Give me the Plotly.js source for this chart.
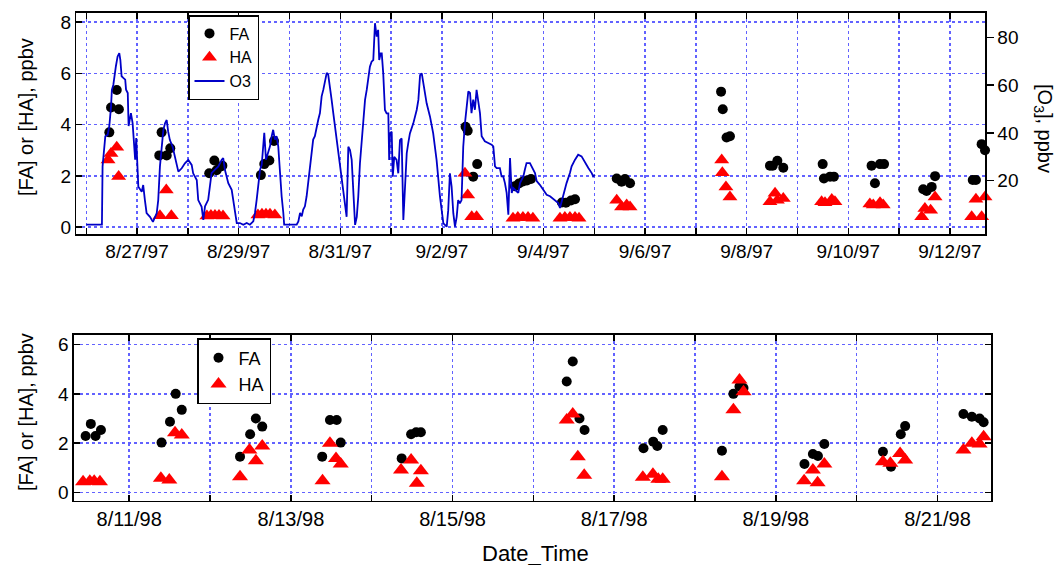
<!DOCTYPE html>
<html>
<head>
<meta charset="utf-8">
<script src="https://cdn.plot.ly/plotly-3.0.1.min.js"></script>
<style>html,body{margin:0;padding:0;background:#fff;}#chart{width:1057px;height:565px;}</style>
</head>
<body>
<div id="chart"></div>
<script>
// ---------- DATA (times are hours after the base date of each campaign) ----------
const base1997 = '1997-08-26';
const base1998 = '1998-08-11';

const o3Hours = [0.0,7.4,7.7,9.0,10.1,10.9,11.7,12.1,12.8,13.2,14.0,14.8,15.6,16.1,16.7,17.5,18.4,18.8,19.6,20.0,20.6,21.1,21.9,22.7,23.1,23.6,24.6,26.2,26.9,27.7,28.5,30.1,31.5,33.3,34.0,34.8,35.6,36.4,37.2,38.0,38.7,39.5,40.8,41.9,43.5,45.1,46.6,48.2,49.8,50.5,52.2,52.9,54.5,55.3,56.1,57.6,58.4,59.2,60.8,62.4,64.0,64.7,65.5,66.3,67.1,68.7,69.4,70.2,71.1,72.6,74.2,75.8,77.3,78.9,79.7,80.5,81.3,82.1,82.9,84.1,84.9,85.7,86.8,87.6,88.3,89.1,89.9,90.7,91.5,92.3,93.1,93.5,99.4,100.2,101.0,101.8,102.5,103.3,104.1,104.9,105.7,106.5,107.2,108.0,108.8,109.6,110.4,111.2,112.0,112.8,113.6,114.3,115.1,115.9,116.7,117.5,118.3,119.1,119.9,120.7,121.4,122.2,123.0,123.8,124.6,125.4,126.2,127.0,127.8,128.5,129.3,130.1,130.9,131.7,132.5,133.2,134.0,134.8,135.6,136.4,137.2,137.9,138.4,139.1,139.6,140.3,141.1,141.9,142.7,143.1,143.5,144.3,144.8,145.5,146.6,147.4,148.2,149.0,149.8,150.6,151.4,152.1,152.9,154.5,156.1,156.9,157.7,158.5,159.2,160.0,160.8,162.4,163.9,165.5,166.3,167.1,168.7,170.3,171.0,171.8,172.6,173.4,174.2,175.0,175.7,176.5,177.3,178.1,178.9,179.7,180.5,181.3,182.0,182.8,183.6,184.4,185.2,186.0,186.8,187.6,188.3,189.9,191.5,192.3,193.1,193.9,195.4,196.2,197.0,197.8,198.6,199.4,200.2,201.0,201.7,203.3,204.1,204.9,206.5,207.2,208.0,209.6,210.4,211.2,212.0,212.8,214.3,215.9,217.5,219.1,221.5,223.0,223.8,224.6,226.1,226.9,228.5,229.3,230.9,232.4,234.0,235.6,237.2,238.8,239.5,240.3];
const o3Ppbv = [1.6,1.6,26,38.6,39.2,42.9,51.1,58,60.2,63.7,67.9,72,73.4,70.6,63.7,63,62.3,58.1,56.7,42.9,46.9,48.3,44.1,31.6,28.8,37.9,17.5,15.4,18.2,11.9,6.5,4.9,2.8,6.5,11.9,25.9,35.6,41.2,44,45.4,40.5,37,34.2,30,23.8,25.2,27.3,28.7,26.6,23.1,20.3,11.9,9.1,3.6,9.3,12,19,23.2,24.6,26,28.8,29.5,24.6,21.8,19,16.2,12,6.5,2.3,2.3,1.6,2.3,1.6,3,6.5,12,19,24.6,26.7,40,28.8,31.6,34.4,38.6,41.3,37.2,38.6,34.4,23.2,13.5,6.5,1.6,1.6,3,6.5,5.1,7.9,9.3,13.5,19,26,31.6,37.2,38.6,42.8,45.5,48.3,55.3,58.1,62.3,65.1,64.4,58.1,53.9,48.3,42.8,37.2,31.6,27.4,20.3,17.5,11.9,4.9,34.2,32.8,28.7,11.9,1.5,4.9,13.3,27.3,37,46.8,53.8,58,62.1,67.7,69.8,70.5,85.9,80.3,83.1,70.5,73.3,73.3,64.9,49.6,48.2,48.2,28.7,39.8,40.5,21.7,30,28.7,23.1,37,37.7,3.6,17.5,31.5,35.6,39.8,44,49.6,53.8,64.2,64.9,60.7,56.6,52.4,46.8,39.8,28.7,18.9,13.3,2.2,0.8,7.7,23.1,17.5,6.4,0.8,4.9,11.9,10.5,11.9,34.2,44,52,57.4,56.7,48.3,53.9,49.7,58,52.5,48.3,38.6,37.2,36.5,35.8,35.1,34.4,26,25.3,25.3,21.8,21.8,19,14.9,5.8,29.5,14.9,17,15.6,14.9,19,21.8,24.6,27.4,27.4,26,24.6,23.2,19.8,18.3,16.2,14.1,13.5,12,10.7,8.6,11.4,16.2,19,23.2,26,28.8,30.9,30.2,27.4,25.3,23.2,21.8,22.5];

const fa97Hours = [10.9,11.7,14.4,15.4, 34.5,35.6,38.0,39.7, 58.1,60.5,61.6,63.2,64.3, 82.5,84.1,86.5,88.7, 179.2,180.2,182.8,184.7, 202.5,204.4,206.3,208.2,210.1, 224.7,226.6,229.0,230.9, 250.6,252.9,254.5,256.9, 299.9,300.7,302.5,304.1, 323.0,324.3,326.5,329.3, 347.9,348.5,351.4,353.2, 371.0,372.6,375.0,376.9, 395.4,397.0,399.4,401.0, 418.8,420.3,423.0,424.6];
const fa97 = [3.7,4.67,5.35,4.6, 2.8,3.7,2.8,3.08, 2.1,2.6,2.22,2.36,2.4, 2.03,2.46,2.6,3.36, 3.92,3.76,1.97,2.46, 1.6,1.7,1.78,1.82,1.88, 0.96,0.95,1.04,1.09, 1.9,1.77,1.88,1.71, 5.29,4.6,3.5,3.55, 2.4,2.4,2.59,2.32, 2.46,1.9,1.97,1.97, 2.4,1.71,2.46,2.46, 1.48,1.41,1.57,1.99, 1.84,1.84,3.24,3.0];

const ha97Hours = [10.3,11.7,14.4,15.3, 34.8,37.8,40.2, 57.0,58.9,60.8,62.7,64.6, 81.1,83.0,84.9,86.8,89.1, 178.9,180.2,182.1,184.4, 201.6,203.9,206.3,208.7,211.0, 223.8,226.1,228.5,230.9,232.8, 250.6,252.9,255.3,256.9, 300.2,300.5,302.2,304.1, 323.0,325.4,326.5,329.3, 347.4,349.0,352.2,353.7, 370.2,371.8,375.0,376.5, 394.7,396.2,398.9,401.0, 418.3,420.3,423.0,424.6];
const ha97 = [2.62,2.87,3.12,1.98, 0.44,1.45,0.44, 0.43,0.45,0.45,0.45,0.43, 0.47,0.5,0.5,0.5,0.47, 2.1,1.25,0.4,0.4, 0.35,0.38,0.38,0.38,0.35, 0.35,0.38,0.38,0.38,0.35, 1.05,0.79,0.86,0.79, 2.62,2.12,1.57,1.18, 0.99,1.32,1.05,1.12, 0.99,0.95,1.08,0.99, 0.9,0.86,0.95,0.86, 0.4,0.73,0.66,1.18, 0.4,1.09,0.4,1.18];

const fa98Hours = [-12.95,-11.4,-10.0,-8.4, 9.6,12.1,13.8,15.6, 32.9,35.9,37.6,39.5, 57.3,59.6,61.6,62.8, 80.9,83.7,85.2,86.6, 129.9,131.7,133.7,135.2, 152.7,155.6,156.8,158.4, 176.0,179.4,181.2,182.4, 200.5,203.0,204.5,206.4, 223.8,226.2,229.1,230.4, 247.7,250.2,252.5,253.7];
const fa98 = [2.29,2.78,2.29,2.53, 2.02,2.87,4.0,3.35, 1.45,2.36,3.0,2.67, 1.45,2.94,2.94,2.02, 1.38,2.36,2.44,2.44, 4.5,5.31,3.0,2.53, 1.79,2.06,1.88,2.53, 1.69,4.0,4.3,4.24, 1.15,1.56,1.48,1.96, 1.65,1.04,2.36,2.69, 3.18,3.07,3.0,2.85];

const ha98Hours = [-13.7,-11.7,-10.4,-8.7, 9.4,11.9,13.6,15.6, 32.9,35.7,37.6,39.5, 57.4,59.6,61.4,62.8, 80.7,83.7,85.4,86.6, 129.9,131.7,133.2,135.1, 152.5,155.5,157.1,158.4, 176.0,179.4,181.2,182.4, 200.4,203.0,204.4,206.4, 223.8,226.0,228.9,230.4, 247.7,250.2,252.5,253.7];
const ha98 = [0.43,0.45,0.45,0.43, 0.57,0.5,2.42,2.33, 0.63,1.72,1.28,1.88, 0.47,1.99,1.38,1.15, 0.91,1.31,0.37,0.88, 2.94,3.18,1.45,0.7, 0.61,0.74,0.53,0.53, 0.63,3.35,4.56,4.09, 0.47,0.91,0.39,1.15, 1.24,1.18,1.58,1.31, 1.72,1.99,1.96,2.26];

const range97Hours = [-4.7, 424.6];
const range98Hours = [-16.4, 255.9];

// ---------- helpers ----------
function pad(n){return (n<10?'0':'')+n;}
function toDate(base, h){
  const p = base.split('-').map(Number);
  const d = new Date(Date.UTC(p[0], p[1]-1, p[2]) + Math.round(h*3600000));
  return d.getUTCFullYear()+'-'+pad(d.getUTCMonth()+1)+'-'+pad(d.getUTCDate())+' '+pad(d.getUTCHours())+':'+pad(d.getUTCMinutes())+':'+pad(d.getUTCSeconds());
}
const conv = (base, arr) => arr.map(h => toDate(base, h));

const FONT = 'Liberation Sans, Arial, Helvetica, sans-serif';
const GRID = '#6262ff';
const DAY = 86400000;

const traces = [
  {x: conv(base1997, o3Hours), y: o3Ppbv, name: 'O3', type: 'scatter', mode: 'lines',
   xaxis: 'x', yaxis: 'y2', line: {color: '#0000c8', width: 1.8}, legend: 'legend', legendrank: 3},
  {x: conv(base1997, fa97Hours), y: fa97, name: 'FA', type: 'scatter', mode: 'markers',
   xaxis: 'x', yaxis: 'y', marker: {symbol: 'circle', size: 10, color: '#000'}, cliponaxis: false, legend: 'legend', legendrank: 1},
  {x: conv(base1997, ha97Hours), y: ha97, name: 'HA', type: 'scatter', mode: 'markers',
   xaxis: 'x', yaxis: 'y', marker: {symbol: 'triangle-up', size: 13, color: '#ff0000'}, cliponaxis: false, legend: 'legend', legendrank: 2},
  {x: conv(base1998, fa98Hours), y: fa98, name: 'FA', type: 'scatter', mode: 'markers',
   xaxis: 'x2', yaxis: 'y3', marker: {symbol: 'circle', size: 10, color: '#000'}, cliponaxis: false, legend: 'legend2', legendrank: 1},
  {x: conv(base1998, ha98Hours), y: ha98, name: 'HA', type: 'scatter', mode: 'markers',
   xaxis: 'x2', yaxis: 'y3', marker: {symbol: 'triangle-up', size: 14, color: '#ff0000'}, cliponaxis: false, legend: 'legend2', legendrank: 2}
];

function xAxis(domain, anchor, base, rng, tick0, minor0, fsize){
  return {
    domain: domain, anchor: anchor, type: 'date',
    range: [toDate(base, rng[0]), toDate(base, rng[1])],
    tick0: tick0, dtick: 2*DAY, tickformat: '%-m/%-d/%y',
    ticks: 'inside', ticklen: 6, tickwidth: 1.5, tickcolor: '#000',
    showline: true, linecolor: '#000', linewidth: 1.5, mirror: 'ticks',
    showgrid: true, gridcolor: GRID, griddash: 'dot', gridwidth: 1.5, zeroline: false,
    minor: {tick0: minor0, dtick: DAY, ticks: 'inside', ticklen: 6, tickwidth: 1.5, tickcolor: '#000',
            showgrid: true, gridcolor: GRID, griddash: 'dot', gridwidth: 1.5},
    tickfont: {family: FONT, size: fsize, color: '#000'}, automargin: false
  };
}

const layout = {
  width: 1057, height: 565,
  margin: {l: 0, r: 0, t: 0, b: 0},
  paper_bgcolor: '#fff', plot_bgcolor: '#fff',
  font: {family: FONT, color: '#000'},
  showlegend: true,
  xaxis: xAxis([0.0722, 0.9319], 'y', base1997, range97Hours, '1997-08-27', '1997-08-26', 19),
  yaxis: {domain: [0.5858, 0.977], anchor: 'x', range: [-0.27, 8.36], tickvals: [0,2,4,6,8],
    ticks: 'inside', ticklen: 6, tickwidth: 1.5, tickcolor: '#000',
    showline: true, linecolor: '#000', linewidth: 1.5, mirror: false,
    showgrid: true, gridcolor: GRID, griddash: 'dot', gridwidth: 1.5, zeroline: false,
    tickfont: {family: FONT, size: 19}, automargin: false},
  yaxis2: {overlaying: 'y', side: 'right', anchor: 'x', range: [-2.3, 90.17], tickvals: [20,40,60,80],
    ticks: 'outside', ticklen: 7, tickwidth: 1.5, tickcolor: '#000',
    showline: true, linecolor: '#000', linewidth: 1.5, showgrid: false, zeroline: false,
    tickfont: {family: FONT, size: 19}, automargin: false},
  xaxis2: xAxis([0.0700, 0.9376], 'y3', base1998, range98Hours, '1998-08-11', '1998-08-10', 20),
  yaxis3: {domain: [0.1133, 0.4071], anchor: 'x2', range: [-0.35, 6.39], tickvals: [0,2,4,6],
    ticks: 'inside', ticklen: 6, tickwidth: 1.5, tickcolor: '#000',
    showline: true, linecolor: '#000', linewidth: 1.5, mirror: 'ticks',
    showgrid: true, gridcolor: GRID, griddash: 'dot', gridwidth: 1.5, zeroline: false,
    tickfont: {family: FONT, size: 19}, automargin: false},
  legend: {x: 188/1057, y: 1-15/565, xanchor: 'left', yanchor: 'top', bgcolor: '#fff',
    bordercolor: '#000', borderwidth: 1.5, font: {family: FONT, size: 16}, traceorder: 'normal',
    tracegroupgap: 0, itemwidth: 30},
  legend2: {x: 197/1057, y: 1-338/565, xanchor: 'left', yanchor: 'top', bgcolor: '#fff',
    bordercolor: '#000', borderwidth: 1.5, font: {family: FONT, size: 18}, traceorder: 'normal',
    tracegroupgap: 0, itemwidth: 30},
  annotations: [
    {text: '[FA] or [HA], ppbv', xref: 'paper', yref: 'paper', x: 26/1057, y: 1-117/565,
     xanchor: 'center', yanchor: 'middle', textangle: -90, showarrow: false, font: {family: FONT, size: 20}},
    {text: '[O<sub>3</sub>], ppbv', xref: 'paper', yref: 'paper', x: 1044/1057, y: 1-128/565,
     xanchor: 'center', yanchor: 'middle', textangle: 90, showarrow: false, font: {family: FONT, size: 20}},
    {text: '[FA] or [HA], ppbv', xref: 'paper', yref: 'paper', x: 26/1057, y: 1-493/565,
     xanchor: 'center', yanchor: 'bottom', textangle: -90, showarrow: false, font: {family: FONT, size: 20}},
    {text: 'Date_Time', xref: 'paper', yref: 'paper', x: 535/1057, y: 1-553/565,
     xanchor: 'center', yanchor: 'middle', showarrow: false, font: {family: FONT, size: 22}}
  ]
};

Plotly.newPlot('chart', traces, layout, {displayModeBar: false, staticPlot: true});
</script>
</body>
</html>
